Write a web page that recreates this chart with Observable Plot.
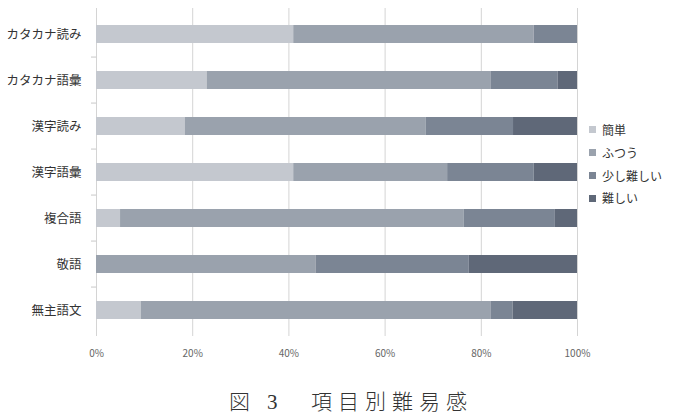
<!DOCTYPE html>
<html>
<head>
<meta charset="utf-8">
<script src="https://cdn.jsdelivr.net/npm/d3@7"></script>
<script src="https://cdn.jsdelivr.net/npm/@observablehq/plot@0.6"></script>
<style>
  body { margin: 0; background: #fff; }
  #wrap { position: relative; width: 677px; height: 415px; }
  #legend { position: absolute; left: 589px; top: 119px; }
  .cap { position: absolute; top: 390px; line-height: 25px; white-space: nowrap;
    font-family: "Liberation Serif", "Noto Sans CJK JP", serif; font-size: 21px; color: #333; font-weight: 300; }
</style>
</head>
<body>
<div id="wrap"></div>
<script>
const categories = ["カタカナ読み","カタカナ語彙","漢字読み","漢字語彙","複合語","敬語","無主語文"];
const levels = ["簡単","ふつう","少し難しい","難しい"];
const easy     = [41, 23, 18.5, 41, 5, 0, 9.3];
const normal   = [50, 59, 50, 32, 71.4, 45.7, 72.7];
const slightly = [9, 14, 18.2, 18, 19, 31.8, 4.6];
const hard     = [0, 4, 13.3, 9, 4.6, 22.5, 13.4];
const xTicks = [0, 20, 40, 60, 80, 100];
const colors = ["#c4c8cf", "#9aa2ad", "#7b8594", "#5f6878"];
const captionParts = ["図", "3", "項目別難易感"];

const series = [easy, normal, slightly, hard];
const rows = [];
categories.forEach((c, i) => {
  levels.forEach((l, j) => rows.push({cat: c, level: l, value: series[j][i]}));
});

const H = 370, MT = 8, MB = 34;
const step = (H - MT - MB) / categories.length;

const plot = Plot.plot({
  width: 677,
  height: H,
  marginLeft: 96,
  marginRight: 100,
  marginTop: MT,
  marginBottom: MB,
  style: {fontFamily: "'Noto Sans CJK JP', sans-serif", color: "#444"},
  x: {domain: [0, 100], label: null},
  y: {domain: categories, paddingInner: 0.6, paddingOuter: 0.3, label: null},
  color: {domain: levels, range: colors},
  marks: [
    Plot.gridX(xTicks, {stroke: "#d4d4d4", strokeOpacity: 1}),
    Plot.ruleY(categories.slice(1), {x1: 0, x2: 1.1, dx: -5, dy: -step / 2, stroke: "#c8c8c8"}),
    Plot.barX(rows, Plot.stackX({y: "cat", x: "value", fill: "level", z: "level", order: levels})),
    Plot.axisY({tickSize: 0, tickPadding: 15, fontSize: 12.5, fill: "#333"}),
    Plot.axisX(xTicks, {tickSize: 0, tickPadding: 13, fontSize: 10, fill: "#666", tickFormat: d => d + "%"})
  ]
});
const wrap = document.getElementById("wrap");
wrap.appendChild(plot);

const leg = plot.legend("color", {columns: 1, swatchSize: 7, swatchWidth: 7, swatchHeight: 7,
  style: {fontFamily: "'Noto Sans CJK JP', sans-serif", fontSize: "12px", color: "#333", lineHeight: "21.8px"}});
const ld = document.createElement("div");
ld.id = "legend";
ld.appendChild(leg);
wrap.appendChild(ld);

const capLefts = [229, 267, 311];
captionParts.forEach((t, i) => {
  const s = document.createElement("div");
  s.className = "cap";
  s.style.left = capLefts[i] + "px";
  if (i === 2) s.style.letterSpacing = "6px";
  s.textContent = t;
  wrap.appendChild(s);
});
</script>
</body>
</html>
